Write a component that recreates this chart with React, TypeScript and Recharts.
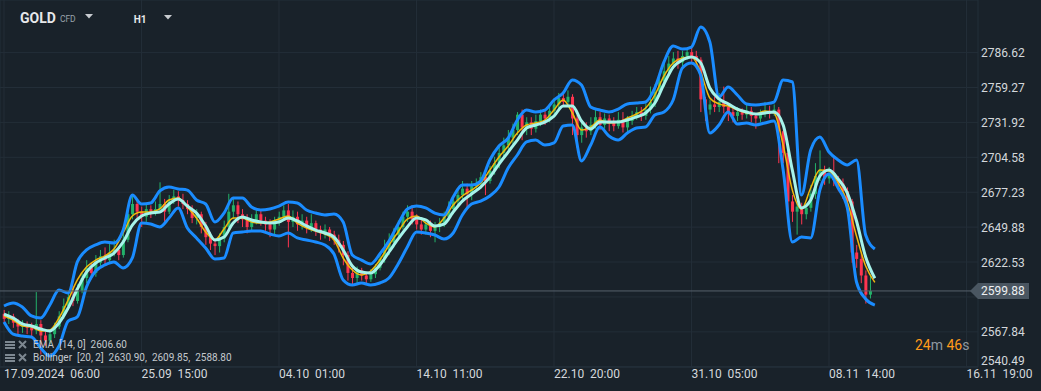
import { ComposedChart, Bar, Line, XAxis, YAxis, CartesianGrid, ReferenceLine } from "recharts";

const BG = "#19222a";
const GRID = "#232e38";
const TEXT = "#d4d8dc";
const GREEN = "#23b26a";
const RED = "#ff3550";
const BAND = "#1a8cff";
const MID = "#a6f3ea";
const EMA = "#f2b90d";

// x = hour-bar index (one candle = ~4.6 h), ticks every 30 candles
const timeTicks = [0, 30, 60, 90, 120, 150, 180, 210];
const timeLabels = [
  "17.09.2024  06:00",
  "25.09  15:00",
  "04.10  01:00",
  "14.10  11:00",
  "22.10  20:00",
  "31.10  05:00",
  "08.11  14:00",
  "16.11  19:00",
];
const priceTicks = [2540.49, 2567.84, 2595.18, 2622.53, 2649.88, 2677.23, 2704.58, 2731.92, 2759.27, 2786.62];
const lastPrice = 2599.88;

// [open, high, low, close]
const candles: number[][] = [
  [2582, 2585, 2575, 2578], [2578, 2584, 2574, 2580], [2580, 2582, 2571, 2575], [2575, 2578, 2566, 2572],
  [2572, 2577, 2567, 2574], [2574, 2576, 2566, 2571], [2571, 2575, 2564, 2569], [2569, 2599, 2566, 2574],
  [2574, 2577, 2550, 2565], [2565, 2568, 2557, 2561], [2561, 2569, 2558, 2566], [2566, 2575, 2563, 2572],
  [2572, 2584, 2570, 2580], [2580, 2594, 2578, 2588], [2588, 2600, 2585, 2595], [2595, 2604, 2588, 2592],
  [2592, 2605, 2590, 2600], [2600, 2614, 2598, 2610], [2610, 2624, 2606, 2618], [2618, 2622, 2609, 2614],
  [2614, 2628, 2611, 2622], [2622, 2632, 2619, 2627], [2627, 2634, 2620, 2624], [2624, 2637, 2622, 2630],
  [2630, 2640, 2627, 2632], [2632, 2635, 2624, 2628], [2628, 2645, 2626, 2640], [2640, 2664, 2638, 2660],
  [2660, 2675, 2656, 2668], [2668, 2672, 2656, 2662], [2662, 2666, 2650, 2658], [2658, 2668, 2654, 2664],
  [2664, 2667, 2657, 2661], [2661, 2670, 2659, 2664], [2664, 2685, 2661, 2668], [2668, 2672, 2654, 2662],
  [2662, 2675, 2660, 2670], [2670, 2679, 2668, 2674], [2674, 2678, 2666, 2671], [2671, 2676, 2664, 2668],
  [2668, 2671, 2660, 2664], [2664, 2667, 2653, 2657], [2657, 2664, 2652, 2660], [2660, 2662, 2645, 2650],
  [2650, 2654, 2636, 2642], [2642, 2646, 2632, 2637], [2637, 2641, 2628, 2635], [2635, 2645, 2630, 2641],
  [2641, 2655, 2638, 2650], [2650, 2676, 2648, 2662], [2662, 2672, 2656, 2667], [2667, 2670, 2653, 2660],
  [2660, 2664, 2650, 2656], [2656, 2660, 2645, 2650], [2650, 2660, 2647, 2655], [2655, 2664, 2652, 2660],
  [2660, 2663, 2651, 2655], [2655, 2658, 2647, 2652], [2652, 2656, 2642, 2648], [2648, 2658, 2643, 2654],
  [2654, 2662, 2651, 2658], [2658, 2667, 2655, 2663], [2663, 2668, 2634, 2654], [2654, 2663, 2650, 2658],
  [2658, 2662, 2647, 2652], [2652, 2660, 2648, 2655], [2655, 2658, 2645, 2650], [2650, 2660, 2646, 2653],
  [2653, 2655, 2643, 2648], [2648, 2651, 2640, 2645], [2645, 2652, 2641, 2648], [2648, 2650, 2639, 2644],
  [2644, 2647, 2636, 2640], [2640, 2644, 2630, 2636], [2636, 2639, 2620, 2628], [2628, 2631, 2608, 2614],
  [2614, 2618, 2604, 2610], [2610, 2619, 2606, 2616], [2616, 2618, 2608, 2612], [2612, 2615, 2605, 2609],
  [2609, 2617, 2607, 2613], [2613, 2621, 2610, 2618], [2618, 2628, 2616, 2625], [2625, 2640, 2622, 2632],
  [2632, 2645, 2628, 2638], [2638, 2649, 2634, 2644], [2644, 2655, 2640, 2650], [2650, 2662, 2648, 2658],
  [2658, 2667, 2654, 2662], [2662, 2667, 2652, 2656], [2656, 2660, 2648, 2652], [2652, 2656, 2644, 2648],
  [2648, 2655, 2644, 2652], [2652, 2655, 2642, 2647], [2647, 2654, 2638, 2650], [2650, 2657, 2646, 2653],
  [2653, 2662, 2650, 2658], [2658, 2670, 2655, 2664], [2664, 2674, 2660, 2670], [2670, 2680, 2667, 2675],
  [2675, 2686, 2672, 2680], [2680, 2684, 2665, 2676], [2676, 2686, 2671, 2682], [2682, 2688, 2678, 2684],
  [2684, 2693, 2680, 2689], [2689, 2693, 2675, 2686], [2686, 2698, 2684, 2694], [2694, 2705, 2691, 2700],
  [2700, 2714, 2696, 2708], [2708, 2720, 2704, 2714], [2714, 2726, 2710, 2720], [2720, 2731, 2715, 2726],
  [2726, 2740, 2722, 2738], [2738, 2742, 2718, 2728], [2728, 2736, 2722, 2732], [2732, 2736, 2722, 2727],
  [2727, 2738, 2724, 2733], [2733, 2742, 2729, 2738], [2738, 2741, 2730, 2735], [2735, 2745, 2732, 2741],
  [2741, 2751, 2738, 2746], [2746, 2755, 2742, 2751], [2751, 2756, 2744, 2748], [2748, 2757, 2745, 2752],
  [2752, 2754, 2722, 2735], [2735, 2738, 2712, 2722], [2722, 2732, 2716, 2728], [2728, 2732, 2720, 2725],
  [2725, 2736, 2722, 2730], [2730, 2742, 2727, 2736], [2736, 2740, 2726, 2730], [2730, 2739, 2727, 2735],
  [2735, 2738, 2725, 2732], [2732, 2736, 2725, 2729], [2729, 2740, 2727, 2734], [2734, 2740, 2724, 2728],
  [2728, 2737, 2724, 2733], [2733, 2741, 2730, 2737], [2737, 2744, 2734, 2740], [2740, 2744, 2733, 2737],
  [2737, 2747, 2734, 2742], [2742, 2760, 2739, 2748], [2748, 2762, 2744, 2756], [2756, 2770, 2752, 2764],
  [2764, 2778, 2760, 2772], [2772, 2784, 2768, 2778], [2778, 2787, 2774, 2782], [2782, 2788, 2774, 2779],
  [2779, 2788, 2776, 2784], [2784, 2790, 2781, 2787], [2787, 2791, 2779, 2784], [2784, 2788, 2776, 2781],
  [2781, 2783, 2740, 2750], [2750, 2752, 2733, 2742], [2742, 2750, 2738, 2746], [2746, 2752, 2740, 2744],
  [2744, 2755, 2740, 2748], [2748, 2760, 2739, 2744], [2744, 2747, 2733, 2740], [2740, 2744, 2732, 2737],
  [2737, 2744, 2733, 2740], [2740, 2743, 2734, 2738], [2738, 2746, 2735, 2741], [2741, 2744, 2732, 2737],
  [2737, 2739, 2727, 2735], [2735, 2742, 2732, 2739], [2739, 2748, 2736, 2741], [2741, 2745, 2735, 2739],
  [2739, 2746, 2737, 2742], [2742, 2744, 2700, 2725], [2725, 2727, 2700, 2708], [2708, 2710, 2662, 2670],
  [2670, 2675, 2654, 2662], [2662, 2670, 2644, 2666], [2666, 2669, 2652, 2660], [2660, 2668, 2656, 2665],
  [2665, 2683, 2662, 2676], [2676, 2700, 2672, 2690], [2690, 2710, 2686, 2695], [2695, 2698, 2683, 2688],
  [2688, 2697, 2684, 2692], [2692, 2704, 2682, 2687], [2687, 2690, 2678, 2684], [2684, 2688, 2672, 2678],
  [2678, 2681, 2664, 2670], [2670, 2672, 2622, 2630], [2630, 2636, 2618, 2625], [2625, 2630, 2606, 2612],
  [2612, 2616, 2590, 2597], [2597, 2613, 2594, 2599.88],
];

// indicator values, one point every second candle
const bbUpper = [
  2588.1, 2590.4, 2587.3, 2580.3, 2578.7, 2588.9, 2600.6, 2598.3, 2622.6, 2632.0,
  2635.9, 2638.2, 2637.4, 2647.6, 2675.0, 2668.0, 2668.8, 2678.2, 2681.3, 2679.8,
  2678.9, 2671.1, 2668.0, 2653.9, 2660.9, 2672.7, 2672.7, 2665.7, 2663.3, 2664.1,
  2666.4, 2669.6, 2668.8, 2663.3, 2660.9, 2659.4, 2660.2, 2653.9, 2628.0, 2624.1,
  2621.0, 2628.8, 2639.0, 2652.3, 2664.1, 2666.4, 2664.9, 2660.9, 2659.4, 2673.5,
  2682.9, 2682.9, 2686.0, 2702.5, 2713.4, 2719.7, 2733.8, 2741.6, 2740.1, 2741.6,
  2749.5, 2755.0, 2765.2, 2761.2, 2744.0, 2741.6, 2740.1, 2742.4, 2746.4, 2747.1,
  2747.9, 2758.9, 2779.3, 2791.8, 2789.4, 2791.0, 2806.7, 2794.9, 2751.8, 2759.7,
  2753.4, 2746.4, 2745.6, 2746.4, 2747.9, 2765.2, 2763.6, 2675.0, 2710.3, 2720.5,
  2708.7, 2702.5, 2698.6, 2702.5, 2643.7, 2632.7,
];
const bbMid = [
  2581.8, 2578.7, 2574.0, 2572.4, 2570.1, 2568.5, 2574.8, 2586.5, 2601.4, 2614.7,
  2621.8, 2625.7, 2629.6, 2638.2, 2651.5, 2658.6, 2660.9, 2661.7, 2668.0, 2671.9,
  2666.4, 2660.9, 2650.8, 2639.8, 2642.1, 2653.1, 2657.8, 2655.5, 2653.9, 2653.1,
  2653.9, 2657.0, 2654.7, 2650.8, 2647.6, 2645.3, 2642.1, 2632.0, 2619.4, 2614.7,
  2613.9, 2620.2, 2630.4, 2640.6, 2650.0, 2657.0, 2655.5, 2650.8, 2652.3, 2661.7,
  2670.3, 2675.8, 2681.3, 2689.1, 2699.3, 2708.7, 2718.1, 2727.5, 2729.9, 2732.2,
  2736.9, 2744.8, 2744.8, 2733.0, 2726.8, 2732.2, 2732.2, 2732.2, 2733.8, 2736.2,
  2739.3, 2747.1, 2762.0, 2775.3, 2780.8, 2783.2, 2778.5, 2758.9, 2750.3, 2746.4,
  2742.4, 2740.1, 2738.5, 2739.3, 2740.1, 2729.9, 2694.6, 2664.9, 2671.1, 2689.9,
  2694.6, 2687.6, 2676.6, 2654.7, 2626.5, 2609.85,
];
const bbLower = [
  2575.6, 2566.1, 2564.6, 2563.8, 2555.2, 2548.9, 2556.7, 2576.3, 2579.5, 2603.0,
  2615.5, 2620.2, 2622.6, 2617.9, 2625.7, 2653.1, 2652.3, 2650.0, 2657.0, 2664.9,
  2649.2, 2641.4, 2633.5, 2624.9, 2625.7, 2645.3, 2646.1, 2646.8, 2646.8, 2644.5,
  2642.9, 2645.3, 2641.4, 2639.8, 2638.2, 2635.9, 2628.8, 2608.5, 2604.5, 2606.1,
  2604.5, 2606.1, 2610.0, 2621.0, 2634.3, 2646.1, 2645.3, 2643.7, 2640.6, 2645.3,
  2659.4, 2668.0, 2670.3, 2674.3, 2681.3, 2696.2, 2706.4, 2716.6, 2718.1, 2714.2,
  2715.8, 2729.1, 2729.9, 2701.7, 2714.2, 2728.3, 2721.3, 2718.1, 2723.6, 2727.5,
  2728.3, 2737.7, 2740.1, 2749.5, 2774.6, 2778.5, 2769.1, 2723.6, 2729.9, 2740.1,
  2730.7, 2731.5, 2729.9, 2731.5, 2733.0, 2694.6, 2638.2, 2642.1, 2641.4, 2678.9,
  2691.5, 2680.5, 2664.9, 2606.9, 2593.6, 2588.8,
];
const ema14 = [
  2580.3, 2577.1, 2572.4, 2571.6, 2568.5, 2569.3, 2578.7, 2592.8, 2608.5, 2618.6,
  2624.1, 2627.3, 2632.7, 2645.3, 2658.6, 2661.7, 2661.7, 2664.1, 2671.1, 2672.7,
  2665.7, 2657.0, 2646.1, 2639.8, 2648.4, 2657.0, 2657.0, 2653.9, 2653.1, 2653.9,
  2656.2, 2658.6, 2653.1, 2649.2, 2646.8, 2644.5, 2639.8, 2625.7, 2616.3, 2612.4,
  2615.5, 2624.1, 2635.9, 2646.1, 2656.2, 2658.6, 2653.1, 2650.0, 2657.0, 2667.2,
  2674.3, 2678.9, 2684.4, 2694.6, 2704.8, 2713.4, 2723.6, 2729.9, 2731.5, 2733.8,
  2741.6, 2749.5, 2739.3, 2726.0, 2728.3, 2733.8, 2731.5, 2732.2, 2735.4, 2738.5,
  2743.2, 2753.4, 2768.3, 2778.5, 2782.4, 2783.2, 2771.4, 2751.1, 2746.4, 2744.8,
  2741.6, 2739.3, 2738.5, 2740.9, 2739.3, 2714.2, 2678.9, 2664.1, 2680.5, 2694.6,
  2693.8, 2684.4, 2669.6, 2642.9, 2619.4, 2606.6,
];

const rows = Array.from({ length: 191 }, (_, i) => {
  const row: Record<string, number> = { i };
  const cd = candles[i];
  if (cd) {
    row.o = cd[0];
    row.h = cd[1];
    row.l = cd[2];
    row.c = cd[3];
  }
  if (i % 2 === 0) {
    const k = i / 2;
    row.up = bbUpper[k];
    row.mid = bbMid[k];
    row.lo = bbLower[k];
    row.ema = ema14[k];
  }
  return row;
});

function Candle(props: any) {
  const { x, y, width, height, payload } = props;
  if (!payload || payload.h == null) return null;
  const { o, h, l, c } = payload;
  const top = Math.min(y, y + height);
  const bot = Math.max(y, y + height);
  const span = h - l || 1;
  const py = (v: number) => top + ((h - v) / span) * (bot - top);
  const cx = x + width / 2;
  const col = c >= o ? GREEN : RED;
  const bTop = py(Math.max(o, c));
  const bBot = py(Math.min(o, c));
  return (
    <g>
      <line x1={cx} x2={cx} y1={top} y2={bot} stroke={col} strokeWidth={1} />
      <rect x={cx - 1.5} y={bTop} width={3} height={Math.max(1, bBot - bTop)} fill={col} />
    </g>
  );
}

function TimeTick(props: any) {
  const { x, y, payload } = props;
  const idx = timeTicks.indexOf(payload.value);
  return (
    <text x={x} y={y + 11} fill={TEXT} fontSize={12} fontFamily="Roboto, sans-serif" textAnchor="start" style={{ whiteSpace: "pre" }}>
      {timeLabels[idx]}
    </text>
  );
}

function PriceTick(props: any) {
  const { x, y, payload } = props;
  // 2595.18 sits under the last-price tag
  if (payload.value === 2595.18) return null;
  const dy = payload.value === 2540.49 ? -1.5 : 4.5;
  return (
    <text x={x} y={y + dy} fill={TEXT} fontSize={12} fontFamily="Roboto, sans-serif" textAnchor="start">
      {payload.value.toFixed(2)}
    </text>
  );
}

function PriceTag(props: any) {
  const { viewBox } = props;
  if (!viewBox) return null;
  const r = viewBox.x + viewBox.width;
  const yy = viewBox.y;
  const pts = `${r - 8},${yy} ${r},${yy - 8} ${r + 51},${yy - 8} ${r + 51},${yy + 8} ${r},${yy + 8}`;
  return (
    <g>
      <polygon points={pts} fill="#4a5661" />
      <text x={r + 3} y={yy + 4.5} fill="#eef0f2" fontSize={12} fontFamily="Roboto, sans-serif">
        {lastPrice.toFixed(2)}
      </text>
    </g>
  );
}

function Caret() {
  return (
    <svg width={8} height={5} style={{ display: "inline-block" }}>
      <polygon points="0,0 8,0 4,4.5" fill="#c8ccd0" />
    </svg>
  );
}

function LegendIcons() {
  return (
    <svg width={24} height={10} style={{ marginRight: 4 }}>
      <rect x={0} y={1} width={10} height={2} fill="#7d8891" />
      <rect x={0} y={4} width={10} height={2} fill="#7d8891" />
      <rect x={0} y={7} width={10} height={2} fill="#7d8891" />
      <path d="M14 1 L21 8 M21 1 L14 8" stroke="#7d8891" strokeWidth={2} />
    </svg>
  );
}

const lineProps = { type: "monotone" as const, dot: false, activeDot: false, connectNulls: true, isAnimationActive: false };

export default function App() {
  return (
    <div
      style={{
        position: "absolute",
        left: 0,
        top: 0,
        width: 1041,
        height: 391,
        background: BG,
        overflow: "hidden",
        fontFamily: "Roboto, sans-serif",
      }}
    >
      <ComposedChart width={1041} height={391} data={rows} margin={{ top: 0, right: 0, bottom: 0, left: 0 }}>
        <CartesianGrid stroke={GRID} />
        <XAxis
          dataKey="i"
          type="number"
          domain={[-0.8727, 212.51]}
          allowDataOverflow
          ticks={timeTicks}
          interval={0}
          height={24}
          tickSize={0}
          tickMargin={0}
          tickLine={false}
          axisLine={{ stroke: GRID }}
          tick={<TimeTick />}
        />
        <YAxis
          orientation="right"
          width={63}
          type="number"
          domain={[2540.3, 2827.83]}
          allowDataOverflow
          ticks={priceTicks}
          interval={0}
          tickSize={0}
          tickMargin={3}
          tickLine={false}
          axisLine={false}
          tick={<PriceTick />}
        />
        <Bar dataKey={(d: any) => (d.h == null ? null : [d.l, d.h])} barSize={3} shape={<Candle />} isAnimationActive={false} />
        <Line dataKey="ema" stroke={EMA} strokeWidth={1.5} {...lineProps} />
        <Line dataKey="up" stroke={BAND} strokeWidth={3} {...lineProps} />
        <Line dataKey="lo" stroke={BAND} strokeWidth={3} {...lineProps} />
        <Line dataKey="mid" stroke={MID} strokeWidth={3} {...lineProps} />
        <ReferenceLine y={lastPrice} stroke="#56616b" strokeWidth={1} label={<PriceTag />} />
      </ComposedChart>

      <div style={{ position: "absolute", left: 20, top: 10, display: "flex", alignItems: "center", color: "#e6e8ea" }}>
        <span style={{ fontSize: 14, fontWeight: 700 }}>GOLD</span>
        <span style={{ fontSize: 8.5, color: "#9aa3ab", marginLeft: 4, marginTop: 2 }}>CFD</span>
        <span style={{ marginLeft: 9, marginTop: -4, display: "flex" }}>
          <Caret />
        </span>
        <span style={{ fontSize: 10, fontWeight: 700, marginLeft: 41, marginTop: 3 }}>H1</span>
        <span style={{ marginLeft: 17, marginTop: -2, display: "flex" }}>
          <Caret />
        </span>
      </div>

      <div style={{ position: "absolute", left: 5, top: 338, fontSize: 10, color: "#c3c8cd", lineHeight: "13px" }}>
        <div style={{ display: "flex", alignItems: "center", whiteSpace: "pre" }}>
          <LegendIcons />
          <span>EMA  [14, 0]  2606.60</span>
        </div>
        <div style={{ display: "flex", alignItems: "center", whiteSpace: "pre" }}>
          <LegendIcons />
          <span>Bollinger  [20, 2]  2630.90,  2609.85,  2588.80</span>
        </div>
      </div>

      <div style={{ position: "absolute", left: 915, top: 337, fontSize: 14, color: "#8f98a0" }}>
        <span style={{ color: "#ff9a1a" }}>24</span>m <span style={{ color: "#ff9a1a" }}>46</span>s
      </div>
    </div>
  );
}
